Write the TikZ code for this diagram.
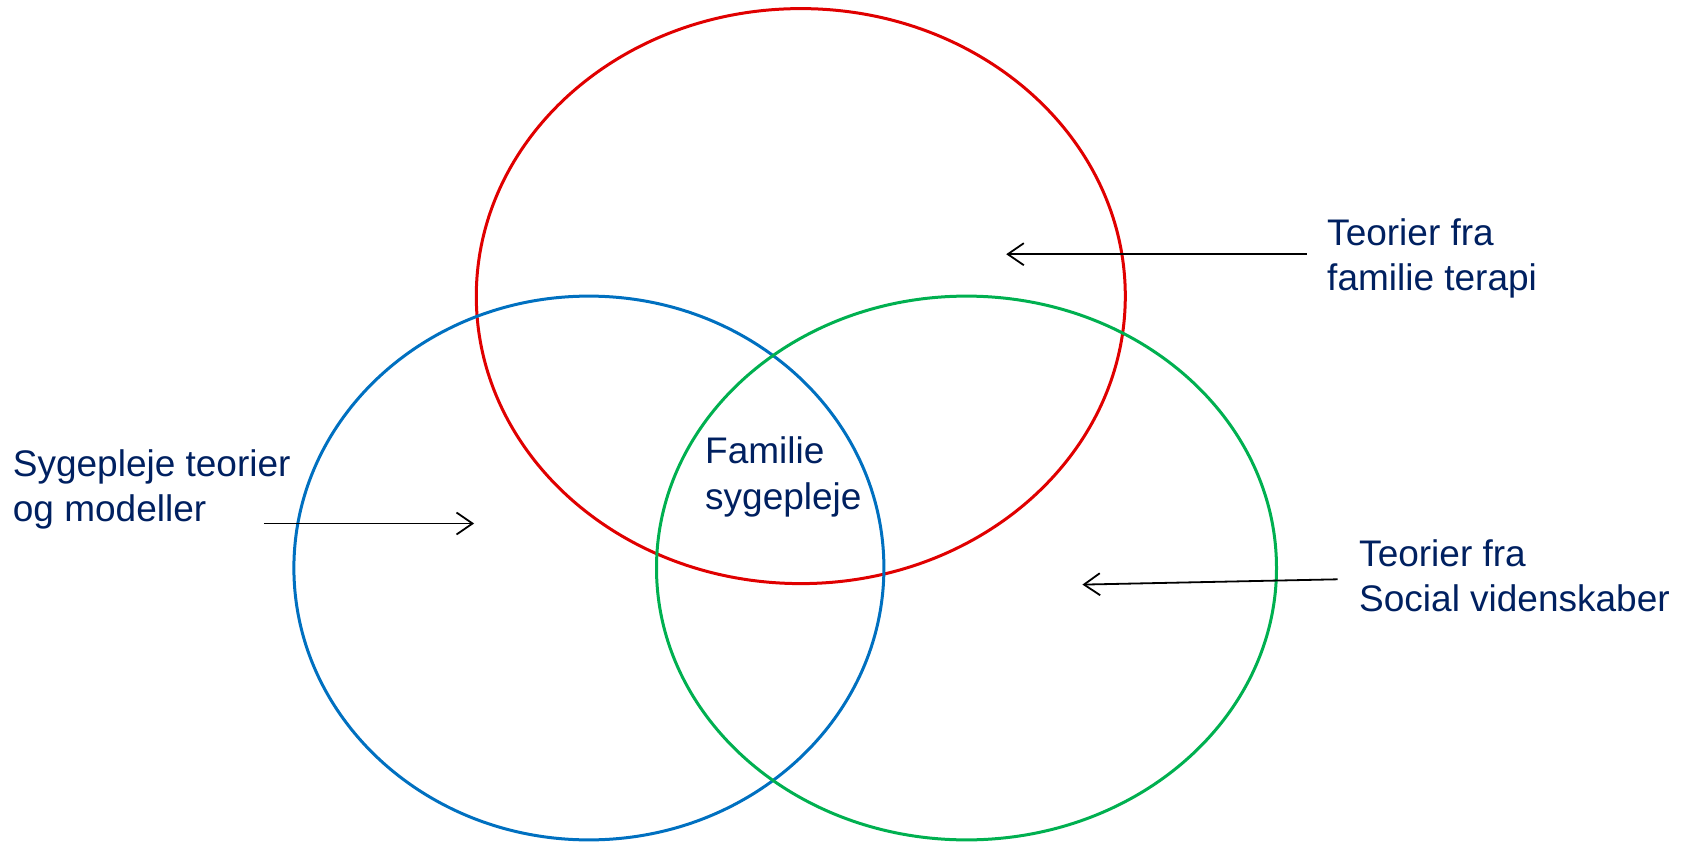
\documentclass[tikz,border=0pt]{standalone}
\usepackage{fontspec}
\setmainfont{Liberation Sans}
\usetikzlibrary{arrows.meta}
\definecolor{txtblue}{HTML}{002060}
\definecolor{cred}{HTML}{E00000}
\definecolor{cblue}{HTML}{0070C0}
\definecolor{cgreen}{HTML}{00B050}
\tikzset{
  ring/.style={line width=3pt},
  lbl/.style={anchor=base west, inner sep=0pt, text=txtblue, font=\fontsize{37}{45}\selectfont},
  pointer/.style={line width=1.8pt, -{Straight Barb[length=16pt,width=22pt,line width=1.8pt]}}
}
\begin{document}
\begin{tikzpicture}[x=1pt,y=-1pt]
\useasboundingbox (0,0) rectangle (1682,843);
% ellipses
\coordinate (cr) at (800.8,296.1);
\coordinate (cb) at (588.9,568.0);
\coordinate (cg) at (966.5,568.0);
\draw[ring,cred] (cr) ellipse [x radius=324.5, y radius=287.5];
\draw[ring,cblue] (cb) ellipse [x radius=295.0, y radius=271.9];
\draw[ring,cgreen] (cg) ellipse [x radius=310.0, y radius=271.9];
% labels
\node[lbl] (t1a) at (1327,245) {Teorier fra};
\node[lbl] (t1b) at (1327,290) {familie terapi};
\node[lbl] (t2a) at (12.7,476.7) {Sygepleje teorier};
\node[lbl] (t2b) at (12.7,521.7) {og modeller};
\node[lbl] (t3a) at (705,463.3) {Familie};
\node[lbl] (t3b) at (705,509.3) {sygepleje};
\node[lbl] (t4a) at (1359,566) {Teorier fra};
\node[lbl] (t4b) at (1359,611) {Social videnskaber};
% arrows
\coordinate (a1s) at (1306.6,254.2);
\coordinate (a1e) at (1006.2,254.2);
\coordinate (a2s) at (263.9,523.5);
\coordinate (a2e) at (474.1,523.5);
\coordinate (a3s) at (1337.7,579.3);
\coordinate (a3e) at (1082.4,584.6);
\draw[pointer] (a1s) -- (a1e);
\draw[pointer] (a2s) -- (a2e);
\draw[pointer] (a3s) -- (a3e);
\end{tikzpicture}
\end{document}
